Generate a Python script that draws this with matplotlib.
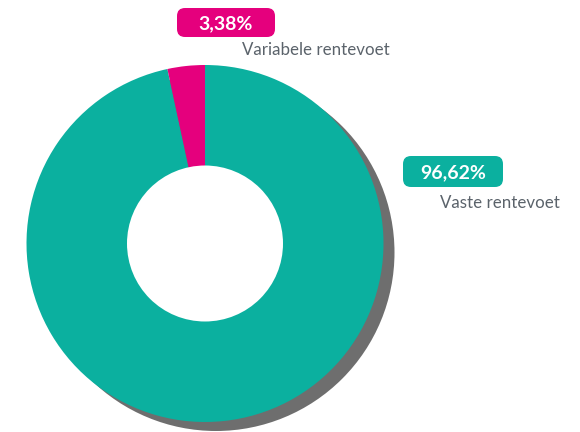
import matplotlib.pyplot as plt
from matplotlib.patches import Circle, FancyBboxPatch

# Data
labels = ['Vaste rentevoet', 'Variabele rentevoet']
values = [96.62, 3.38]
value_labels = ['96,62%', '3,38%']
colors = ['#0bb09f', '#e5007d']

W, H = 580, 432
fig = plt.figure(figsize=(W / 100, H / 100), dpi=100)
ax = fig.add_axes([0, 0, 1, 1])

cx, cy, R = 205, H - 243.5, 178.5
hole_r = 78

# shadow
ax.add_patch(Circle((cx + 11, cy - 9), R, facecolor='#6e6e6e', edgecolor='none', zorder=1))

wedges, _ = ax.pie(values, colors=colors, startangle=90, counterclock=False,
                   center=(cx, cy), radius=R, frame=True,
                   wedgeprops=dict(linewidth=0))
for w in wedges:
    w.set_zorder(2)
ax.add_patch(Circle((cx, cy), hole_r, facecolor='white', edgecolor='none', zorder=3))
ax.set_xlim(0, W)
ax.set_ylim(0, H)
ax.set_aspect('equal')
ax.axis('off')

# label boxes: box x0, box top, width, height, name x, name y (pixels from top)
boxes = [
    (403, 156, 100, 31, 440, 203),
    (177, 8, 98, 29, 242, 50),
]
for (bx, by, bw, bh, nx, ny), col, vl, name in zip(boxes, colors, value_labels, labels):
    ax.add_patch(FancyBboxPatch((bx + 8, H - by - bh + 8), bw - 16, bh - 16,
                                boxstyle='round,pad=8', facecolor=col,
                                edgecolor='none', zorder=4))
    ax.text(bx + bw / 2, H - by - bh / 2 - 1, vl, color='white', fontsize=14,
            fontweight='bold', family='Lato', ha='center', va='center', zorder=5)
    ax.text(nx, H - ny, name, color='#5b636b', fontsize=12.2, family='Lato',
            ha='left', va='center', zorder=5)

fig.savefig('out.png', dpi=100)
